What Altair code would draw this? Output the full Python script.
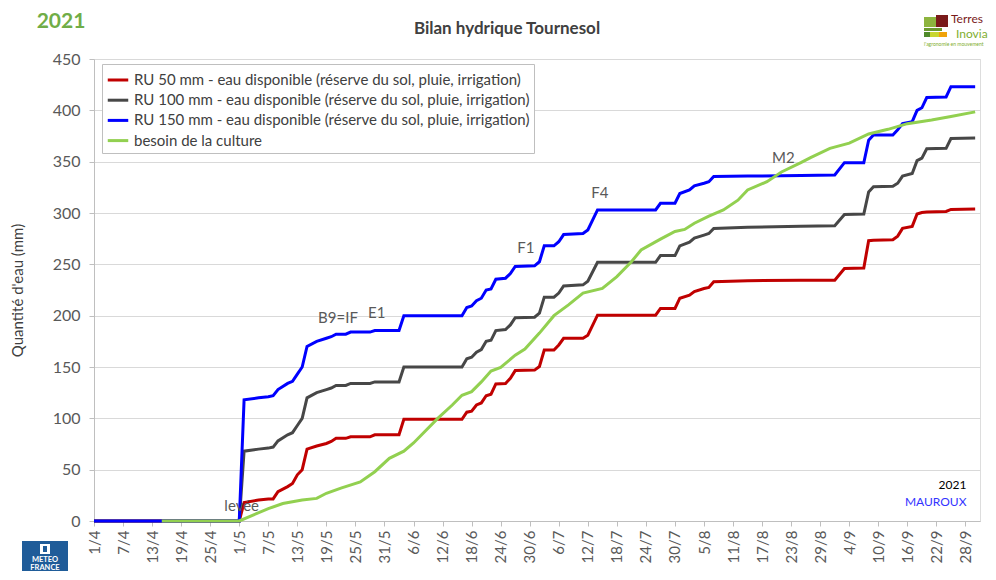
import altair as alt
import pandas as pd

# ---------------- data ----------------
tick_days = [0, 6, 12, 18, 24, 30, 36, 42, 48, 54, 60, 66, 72, 78, 84, 90, 96, 102,
             108, 114, 120, 126, 132, 138, 144, 150, 156, 162, 168, 174, 180]
tick_labels = ["1/4", "7/4", "13/4", "19/4", "25/4", "1/5", "7/5", "13/5", "19/5", "25/5",
               "31/5", "6/6", "12/6", "18/6", "24/6", "30/6", "6/7", "12/7", "18/7", "24/7",
               "30/7", "5/8", "11/8", "17/8", "23/8", "29/8", "4/9", "10/9", "16/9", "22/9", "28/9"]

s_red = "RU 50 mm - eau disponible (réserve du sol, pluie, irrigation)"
s_grey = "RU 100 mm - eau disponible (réserve du sol, pluie, irrigation)"
s_blue = "RU 150 mm - eau disponible (réserve du sol, pluie, irrigation)"
s_green = "besoin de la culture"

ru_days = [0, 30, 31, 34, 36, 37, 38, 40, 41, 42, 43, 44, 46, 48, 49, 50, 52, 53, 57, 58,
           63, 64, 76, 77, 78, 79, 80, 81, 82, 83, 85, 86, 87, 91, 92, 93, 95, 96, 97, 101,
           102, 104, 116, 117, 120, 121, 123, 124, 126, 127, 128, 135, 146, 153, 155, 159, 160, 161, 165, 166,
           167, 169, 170, 171, 172, 176, 177, 182]

blue_vals = [0, 0, 118, 120, 121, 122, 128, 134, 136, 143,
             150, 170, 175, 178, 179.5, 182, 182, 184, 184, 185.5,
             185.5, 200, 200, 208, 209.5, 214.5, 217, 225, 226, 235.5,
             236.5, 241, 248, 248.5, 252.5, 268, 268, 272, 279, 280,
             283.5, 303, 303, 309.5, 309.5, 319, 322.5, 326.5, 329, 330.5,
             335.5, 336, 336.5, 337, 349, 349, 371, 376, 376, 381,
             387, 389, 400, 402.5, 412.5, 413, 423, 423]

grey_vals = [0, 0, 68, 70, 71, 72, 78, 84, 86, 93,
             100, 120, 125, 128, 129.5, 132, 132, 134, 134, 135.5,
             135.5, 150, 150, 158, 159.5, 164.5, 167, 175, 176, 185.5,
             186.5, 191, 198, 198.5, 202.5, 218, 218, 222, 229, 230,
             233.5, 252, 252, 258.5, 258.5, 268, 271.5, 275.5, 278.5, 280,
             285, 286, 287, 287.5, 298.5, 299, 320.5, 325.5, 326, 329,
             336, 338.5, 351, 353.5, 362.5, 363, 372.5, 373]

red_vals = [0, 0, 18, 20.5, 21.5, 21.5, 28.5, 33.5, 36.5, 45,
            50, 70, 73, 75.5, 77.5, 80.5, 80.5, 82, 82, 84,
            84, 99, 99, 106, 107, 113, 115, 122, 123.5, 133.5,
            134, 139, 146.5, 147, 150.5, 166.5, 166.5, 171.5, 178, 178,
            181, 200.5, 200.5, 207, 207, 217, 220, 223.5, 226.5, 227.5,
            233, 234, 234.5, 234.5, 246, 246.5, 273, 273.5, 274, 277.5,
            285, 287, 299, 300.5, 301, 301.5, 303.5, 304]

green_days = [14, 30, 36, 39, 43, 46, 48, 51, 55, 58,
              61, 64, 66, 71, 74, 76, 78, 80, 82, 84,
              87, 89, 92, 95, 98, 101, 105, 108, 111, 113,
              117, 120, 122, 124, 127, 130, 133, 135, 139, 142,
              146, 148, 152, 156, 160, 164, 168, 173, 177, 182]
green_vals = [0, 0, 12, 17, 20.5, 22, 27, 32, 38, 48,
              61, 68, 76, 100, 113, 122.5, 126, 135.5, 146, 149.5,
              161.5, 167.5, 183, 200, 210.5, 222, 226.5, 238, 252.5, 264,
              274.5, 282, 284, 290, 297, 303, 312.5, 322.5, 330.5, 340,
              349, 354, 363, 368, 377, 381.5, 387, 390.5, 394, 398.5]

ann_labels = ["levée", "B9=IF", "E1", "F1", "F4", "M2"]
ann_days = [30.5, 50.4, 58.4, 89.2, 104.5, 142.4]
ann_vals = [15, 197.7, 202.6, 266, 319.5, 353.6]

series_names = [s_red, s_grey, s_blue, s_green]
series_colors = ["#c00000", "#474747", "#0000ff", "#92d050"]

FONT = "Lato"
W, H = 886, 462

# ---------------- chart ----------------
label_expr = "[" + ",".join("'" + t + "'" for t in tick_labels) + "][round(datum.value/6)]"

x_axis = alt.Axis(values=tick_days, labelExpr=label_expr, labelAngle=-90,
                  labelFontSize=15, labelFont=FONT, labelColor="#595959",
                  grid=False, tickSize=5, tickColor="#bfbfbf",
                  domainColor="#bfbfbf", labelPadding=4, title=None,
                  labelOverlap=False, labelBound=False)
y_axis = alt.Axis(values=list(range(0, 451, 50)), grid=True, gridColor="#d9d9d9",
                  domainColor="#bfbfbf", tickColor="#bfbfbf", tickSize=5,
                  labelFontSize=16, labelFont=FONT, labelColor="#595959",
                  labelPadding=9, title="Quantité d'eau (mm)",
                  titleFontSize=15, titleFont=FONT, titleFontWeight="normal",
                  titleColor="#404040", titlePadding=27)
x_enc = alt.X("day:Q", scale=alt.Scale(domain=[0, 183], nice=False, zero=False), axis=x_axis)
y_enc = alt.Y("value:Q", scale=alt.Scale(domain=[0, 450], nice=False), axis=y_axis)

color_scale = alt.Scale(domain=series_names, range=series_colors)
legend = alt.Legend(title=None, orient="none", legendX=8, legendY=5,
                    symbolType="stroke", symbolStrokeWidth=3, symbolSize=420,
                    labelFontSize=15, labelFont=FONT, labelColor="#404040",
                    strokeColor="#bfbfbf", fillColor="white", padding=4,
                    rowPadding=0.2, labelLimit=600, labelOffset=4)


def series_df(name, days, vals):
    return pd.DataFrame({"day": days, "value": vals, "series": name})


layers = []
for name, days, vals in [(s_red, ru_days, red_vals), (s_grey, ru_days, grey_vals),
                         (s_blue, ru_days, blue_vals), (s_green, green_days, green_vals)]:
    layers.append(
        alt.Chart(series_df(name, days, vals)).mark_line(strokeWidth=3).encode(
            x=x_enc, y=y_enc,
            color=alt.Color("series:N", scale=color_scale, legend=legend),
        )
    )

ann_df = pd.DataFrame({"day": ann_days, "value": ann_vals, "label": ann_labels})
annotations = alt.Chart(ann_df).mark_text(fontSize=15, font=FONT, color="#595959").encode(
    x=x_enc, y=y_enc, text="label:N")

notes_df = pd.DataFrame({"day": [180.2, 180.2], "value": [35, 18.5],
                         "label": ["2021", "MAUROUX"], "c": ["#000000", "#3333ff"]})
notes = alt.Chart(notes_df).mark_text(fontSize=12, font=FONT, align="right").encode(
    x=x_enc, y=y_enc, text="label:N", color=alt.Color("c:N", scale=None))

dummy = pd.DataFrame({"a": [0]})


def ptext(txt, x, y, size, color, weight="normal", align="center"):
    return alt.Chart(dummy).mark_text(text=txt, fontSize=size, font=FONT, color=color,
                                      fontWeight=weight, align=align, baseline="middle").encode(
        x=alt.value(x), y=alt.value(y))


def prect(x1, x2, y1, y2, color):
    return alt.Chart(dummy).mark_rect(color=color).encode(
        x=alt.value(x1), x2=alt.value(x2), y=alt.value(y1), y2=alt.value(y2))


deco = [
    ptext("Bilan hydrique Tournesol", 413, -30, 17, "#404040", "bold"),
    ptext("2021", -33, -37, 21, "#70ad47", "bold"),
    # Terres Inovia logo (approximation)
    prect(830, 842, -42, -32, "#8db43e"),
    prect(842, 854, -44, -32, "#7a1a1a"),
    prect(830, 848, -31, -28, "#6b9a2e"),
    prect(830, 836, -27, -22, "#4f8a2a"),
    prect(836, 845, -27, -22, "#c8d630"),
    prect(845, 853, -27, -22, "#f0a30a"),
    ptext("Terres", 857, -40, 12, "#7a1a1a", align="left"),
    ptext("Inovia", 862, -25, 12, "#7fae2f", align="left"),
    ptext("l'agronomie en mouvement", 830, -15, 5, "#7fae2f", align="left"),
    # Meteo France logo (approximation)
    prect(-72, -26, 482, 521, "#1f5c99"),
    prect(-54, -44, 485, 495, "#ffffff"),
    prect(-51, -47, 487, 493, "#1f5c99"),
    ptext("METEO", -49, 501, 7.5, "#ffffff", "bold"),
    ptext("FRANCE", -49, 509, 7.5, "#ffffff", "bold"),
]

chart = alt.layer(*layers, annotations, notes, *deco).properties(
    width=W, height=H,
    autosize=alt.AutoSizeParams(type="none"),
    padding={"left": 86, "top": 51, "right": 8, "bottom": 50},
).configure_view(stroke="#bfbfbf").configure(background="white").configure_axisX(
    labelOverlap=False)

chart.save("out.html", embed_options={"renderer": "svg", "actions": False})
